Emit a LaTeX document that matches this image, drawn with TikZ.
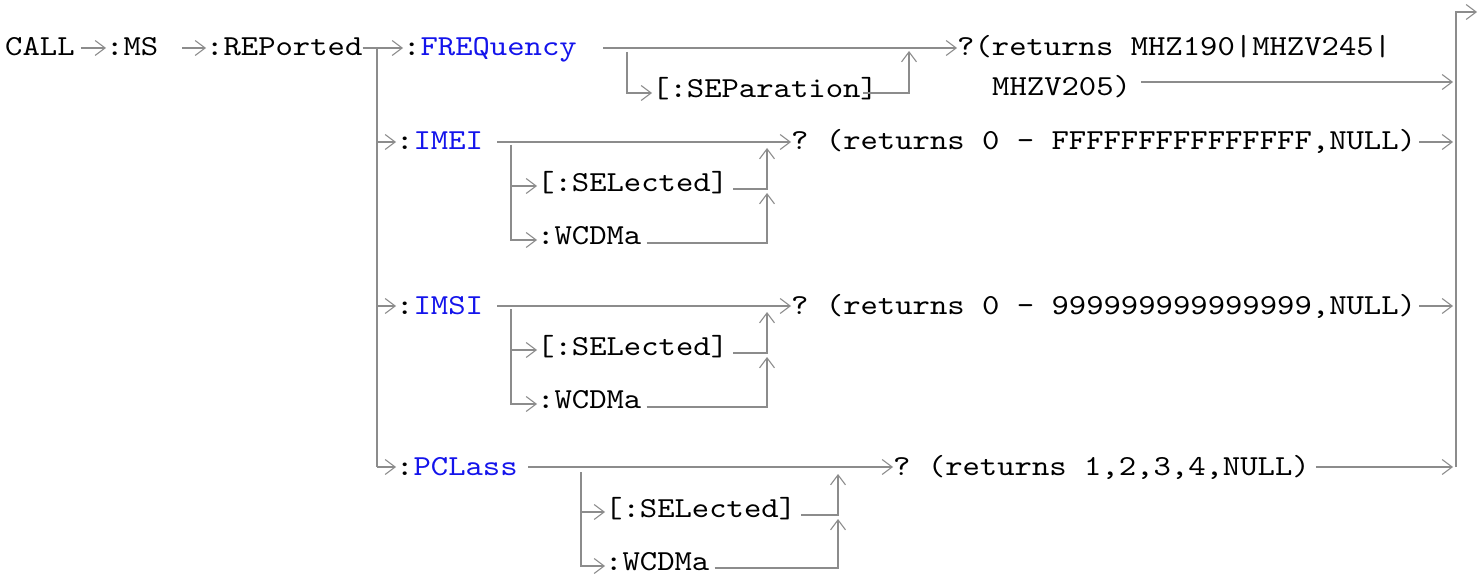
\documentclass[tikz,border=0pt]{standalone}
\usepackage{fontspec}
\setmonofont[FakeStretch=1.14]{lmmono10-regular.otf}
\usetikzlibrary{arrows.meta}
\definecolor{lnc}{RGB}{140,140,140}
\definecolor{kw}{RGB}{20,20,235}
\begin{document}
\begin{tikzpicture}[x=1pt,y=-1pt,
  txt/.style={anchor=base west,inner sep=0pt,text height=16pt,text depth=0pt,font=\fontsize{29}{34}\selectfont\ttfamily},
  ln/.style={draw=lnc,line width=2pt},
  arr/.style={ln,-{Straight Barb[length=10pt,width=15pt,line width=1.1pt]}}]
\useasboundingbox (0,0) rectangle (1484,575);
% nodes
\node[txt] (call) at (5,56) {CALL};
\node[txt] (ms) at (106,56) {:MS};
\node[txt] (rep) at (206,56) {:REPorted};
\node[txt] (freq) at (403,56) {:\textcolor{kw}{FREQuency}};
\node[txt] (sep) at (652,98) {[:SEParation]};
\node[txt] (fret) at (957,56) {?(returns MHZ190|MHZV245|};
\node[txt] (fret2) at (992,96) {MHZV205)};
\node[txt] (imei) at (396,150) {:\textcolor{kw}{IMEI}};
\node[txt] (imeisel) at (537,191) {[:SELected]};
\node[txt] (imeiw) at (537,244) {:WCDMa};
\node[txt] (imeiret) at (791,150) {? (returns 0 - FFFFFFFFFFFFFFF,NULL)};
\node[txt] (imsi) at (396,314) {:\textcolor{kw}{IMSI}};
\node[txt] (imsisel) at (537,355) {[:SELected]};
\node[txt] (imsiw) at (537,408) {:WCDMa};
\node[txt] (imsiret) at (791,314) {? (returns 0 - 999999999999999,NULL)};
\node[txt] (pcl) at (396,475) {:\textcolor{kw}{PCLass}};
\node[txt] (pclsel) at (605,517) {[:SELected]};
\node[txt] (pclw) at (605,570) {:WCDMa};
\node[txt] (pclret) at (893,475) {? (returns 1,2,3,4,NULL)};
% junction coordinates
\coordinate (msout) at (182,48);
\coordinate (j0) at (377,48);
\coordinate (fout) at (603,48);
\coordinate (sepj) at (627,52);
\coordinate (sepup) at (909,51);
\coordinate (imeiout) at (497,142);
\coordinate (imeij) at (511,145);
\coordinate (imeiup1) at (767,148);
\coordinate (imeiup2) at (767,193);
\coordinate (imsiout) at (497,306);
\coordinate (imsij) at (511,309);
\coordinate (imsiup1) at (767,312);
\coordinate (imsiup2) at (767,357);
\coordinate (pclout) at (528,467);
\coordinate (pclj) at (581,472);
\coordinate (pclup1) at (838,474);
\coordinate (pclup2) at (838,519);
\coordinate (rtop) at (1456,12);
\coordinate (rbot) at (1456,467);
\coordinate (rend) at (1477,12);
% top row
\draw[arr] ([xshift=6pt]call.east) -- (ms.west);
\draw[arr] (msout) -- (rep.west);
\draw[arr] (rep.east) -- (freq.west);
\draw[arr] (fout) -- (fret.west);
\draw[arr] (sepj) |- ([yshift=5pt]sep.base west);
\draw[arr] ([xshift=-15pt,yshift=5pt]sep.base east) -| (sepup);
\draw[arr] ([xshift=10pt,yshift=14pt]fret2.base east) -- ([xshift=-3pt]rbot |- 0,82);
\draw[arr] (rbot) -- (rtop) -- (rend);
% left trunk
\draw[ln] (j0) -- (j0 |- pcl.west);
\draw[arr] (j0 |- imei.west) -- (imei.west);
\draw[arr] (j0 |- imsi.west) -- (imsi.west);
\draw[arr] (j0 |- pcl.west) -- (pcl.west);
% IMEI
\draw[arr] (imeiout) -- (imeiret.west);
\draw[arr] (imeij) |- ([yshift=5pt]imeisel.base west);
\draw[arr] (imeij |- imeisel.west) |- ([yshift=4pt]imeiw.base west);
\draw[arr] ([xshift=5pt,yshift=2pt]imeisel.base east) -| (imeiup1);
\draw[arr] ([xshift=5pt,yshift=1pt]imeiw.base east) -| (imeiup2);
\draw[arr] ([xshift=3pt]imeiret.east) -- ([xshift=-3pt]rbot |- imeiret.east);
% IMSI
\draw[arr] (imsiout) -- (imsiret.west);
\draw[arr] (imsij) |- ([yshift=5pt]imsisel.base west);
\draw[arr] (imsij |- imsisel.west) |- ([yshift=4pt]imsiw.base west);
\draw[arr] ([xshift=5pt,yshift=2pt]imsisel.base east) -| (imsiup1);
\draw[arr] ([xshift=5pt,yshift=1pt]imsiw.base east) -| (imsiup2);
\draw[arr] ([xshift=3pt]imsiret.east) -- ([xshift=-3pt]rbot |- imsiret.east);
% PCLass
\draw[arr] (pclout) -- (pclret.west);
\draw[arr] (pclj) |- ([yshift=5pt]pclsel.base west);
\draw[arr] (pclj |- pclsel.west) |- ([yshift=4pt]pclw.base west);
\draw[arr] ([xshift=5pt,yshift=2pt]pclsel.base east) -| (pclup1);
\draw[arr] ([xshift=5pt,yshift=2pt]pclw.base east) -| (pclup2);
\draw[arr] ([xshift=6pt]pclret.east) -- ([xshift=-3pt]rbot);
\end{tikzpicture}
\end{document}
